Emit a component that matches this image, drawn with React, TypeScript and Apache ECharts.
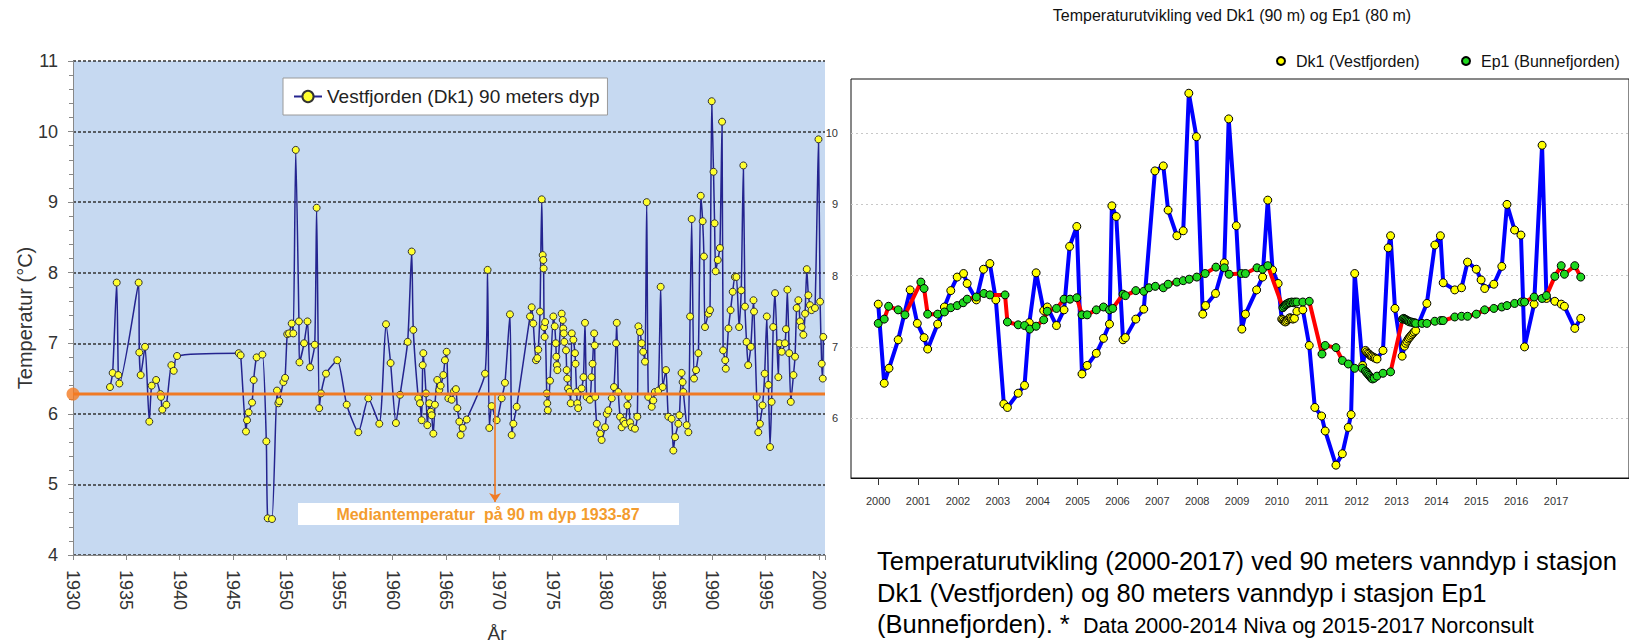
import React, { useEffect, useRef } from 'react';
import * as echarts from 'echarts';

// ---------- Left chart: Vestfjorden (Dk1) 90 m, 1933-2000 ----------
const dk1Historic: [number, number][] = [
  [1933.47, 6.38], [1933.72, 6.58], [1934.1, 7.86], [1934.25, 6.55], [1934.35, 6.43],
  [1936.16, 7.86], [1936.22, 6.87], [1936.35, 6.55], [1936.76, 6.95], [1937.16, 5.89],
  [1937.38, 6.4], [1937.8, 6.48], [1938.2, 6.28], [1938.26, 6.24], [1938.38, 6.06],
  [1938.76, 6.13], [1939.23, 6.69], [1939.45, 6.61], [1939.76, 6.82], [1945.55, 6.86],
  [1945.73, 6.83], [1946.23, 5.75], [1946.33, 5.91], [1946.48, 6.02], [1946.8, 6.16],
  [1946.95, 6.48], [1947.23, 6.8], [1947.77, 6.84], [1948.14, 5.61], [1948.27, 4.52],
  [1948.67, 4.51], [1949.14, 6.33], [1949.27, 6.15], [1949.36, 6.18], [1949.74, 6.45],
  [1949.9, 6.51], [1950.1, 7.13], [1950.27, 7.14], [1950.52, 7.28], [1950.67, 7.14],
  [1950.9, 9.74], [1951.2, 7.31], [1951.25, 6.73], [1951.68, 7.0], [1952.0, 7.31],
  [1952.24, 6.66], [1952.68, 6.98], [1952.86, 8.92], [1953.1, 6.08], [1953.27, 6.29],
  [1953.74, 6.57], [1954.8, 6.76], [1955.68, 6.13], [1956.77, 5.74], [1957.71, 6.22],
  [1958.74, 5.86], [1959.37, 7.27], [1959.8, 6.72], [1960.3, 5.87], [1960.69, 6.27],
  [1961.4, 7.02], [1961.78, 8.3], [1961.93, 7.19], [1962.4, 6.22], [1962.56, 6.15],
  [1962.71, 5.91], [1962.81, 6.69], [1962.87, 6.86], [1963.12, 6.29], [1963.25, 5.84],
  [1963.43, 6.15], [1963.56, 6.03], [1963.65, 5.98], [1963.81, 5.72], [1963.96, 6.13],
  [1964.18, 6.48], [1964.37, 6.34], [1964.5, 6.4], [1964.75, 6.55], [1964.9, 6.76],
  [1965.06, 6.88], [1965.22, 6.22], [1965.53, 6.2], [1965.75, 6.32], [1965.93, 6.35],
  [1966.06, 6.08], [1966.25, 5.89], [1966.37, 5.7], [1966.56, 5.8], [1966.94, 5.92],
  [1968.66, 6.57], [1968.9, 8.04], [1969.06, 5.8], [1969.28, 6.11], [1969.75, 5.91],
  [1970.22, 6.22], [1970.53, 6.44], [1971.0, 7.41], [1971.16, 5.7], [1971.32, 5.86],
  [1971.63, 6.1], [1972.88, 7.38], [1973.04, 7.51], [1973.19, 7.28], [1973.44, 6.76],
  [1973.57, 6.79], [1973.66, 6.91], [1973.82, 7.45], [1973.98, 9.04], [1974.07, 8.25],
  [1974.13, 8.18], [1974.16, 8.06], [1974.2, 7.23], [1974.25, 7.09], [1974.3, 7.3],
  [1974.45, 6.29], [1974.5, 6.15], [1974.55, 6.05], [1974.76, 6.47], [1975.07, 7.38],
  [1975.2, 7.24], [1975.3, 7.0], [1975.35, 6.81], [1975.4, 6.69], [1975.45, 6.62],
  [1975.85, 7.42], [1975.95, 7.33], [1976.0, 7.21], [1976.05, 7.14], [1976.1, 7.02],
  [1976.26, 6.9], [1976.32, 6.62], [1976.38, 6.5], [1976.45, 6.36], [1976.6, 6.31],
  [1976.7, 6.15], [1976.8, 7.14], [1976.95, 7.05], [1977.1, 6.86], [1977.15, 6.71],
  [1977.25, 6.31], [1977.32, 6.15], [1977.4, 6.08], [1977.73, 6.36], [1977.9, 6.52],
  [1978.04, 7.29], [1978.2, 6.24], [1978.5, 6.2], [1978.65, 6.52], [1978.75, 6.71],
  [1978.9, 7.14], [1978.95, 6.97], [1979.0, 6.24], [1979.15, 5.86], [1979.45, 5.72],
  [1979.6, 5.63], [1979.92, 5.81], [1980.08, 6.0], [1980.23, 6.05], [1980.55, 6.22],
  [1980.76, 6.38], [1980.95, 7.0], [1981.02, 7.29], [1981.17, 6.31], [1981.33, 5.96],
  [1981.48, 5.81], [1981.64, 5.9], [1981.8, 5.86], [1982.02, 6.12], [1982.11, 6.24],
  [1982.27, 5.88], [1982.42, 5.81], [1982.73, 5.79], [1982.95, 5.96], [1983.05, 7.24],
  [1983.2, 7.16], [1983.36, 7.0], [1983.5, 6.88], [1983.67, 6.74], [1983.83, 9.0],
  [1983.98, 6.24], [1984.3, 6.1], [1984.45, 6.19], [1984.6, 6.31], [1984.92, 6.33],
  [1985.14, 7.8], [1985.33, 6.38], [1985.64, 6.62], [1985.86, 5.96], [1986.17, 5.93],
  [1986.33, 5.48], [1986.49, 5.67], [1986.8, 5.86], [1986.9, 5.98], [1987.1, 6.58],
  [1987.2, 6.45], [1987.27, 6.31], [1987.58, 5.84], [1987.74, 5.74], [1987.9, 7.38],
  [1988.05, 8.76], [1988.27, 6.5], [1988.46, 6.62], [1988.68, 6.86], [1988.9, 9.09],
  [1989.08, 8.73], [1989.2, 8.23], [1989.3, 7.23], [1989.62, 7.42], [1989.77, 7.47],
  [1989.93, 10.43], [1990.1, 9.43], [1990.2, 8.7], [1990.3, 8.02], [1990.5, 8.18],
  [1990.7, 8.35], [1990.9, 10.14], [1991.0, 6.9], [1991.2, 6.76], [1991.25, 6.64],
  [1991.5, 7.21], [1991.7, 7.47], [1991.9, 7.73], [1992.1, 7.94], [1992.25, 7.94],
  [1992.5, 7.23], [1992.7, 7.75], [1992.9, 9.52], [1993.05, 7.52], [1993.2, 7.02],
  [1993.35, 6.69], [1993.6, 6.95], [1993.85, 7.61], [1993.9, 7.45], [1994.15, 6.24],
  [1994.3, 5.74], [1994.45, 5.86], [1994.7, 6.12], [1994.9, 6.57], [1995.1, 7.38],
  [1995.25, 6.41], [1995.4, 5.53], [1995.55, 6.17], [1995.7, 7.23], [1995.87, 7.71],
  [1996.18, 6.52], [1996.28, 7.0], [1996.5, 6.88], [1996.8, 7.0], [1996.9, 7.2],
  [1997.03, 7.76], [1997.2, 6.86], [1997.35, 6.17], [1997.6, 6.55], [1997.75, 6.81],
  [1997.9, 7.5], [1998.06, 7.61], [1998.22, 7.31], [1998.37, 7.23], [1998.53, 7.12],
  [1998.69, 7.42], [1998.85, 8.05], [1999.0, 7.68], [1999.15, 7.54], [1999.3, 7.47],
  [1999.62, 7.5], [1999.95, 9.89], [2000.1, 7.59], [2000.25, 6.71], [2000.35, 6.5],
  [2000.4, 7.09],
];
const medianTemp = 6.28;
const medianArrowYear = 1969.6;
const medianArrowEnd = 4.75;
const leftYearTicks = [1930, 1935, 1940, 1945, 1950, 1955, 1960, 1965, 1970, 1975, 1980, 1985, 1990, 1995, 2000];

// ---------- Right chart: Dk1 and Ep1, 2000-2017 ----------
const dk1Recent: [number, number][] = [
  [2000.0, 7.6], [2000.15, 6.49], [2000.27, 6.7], [2000.5, 7.1], [2000.8, 7.8],
  [2000.98, 7.33], [2001.15, 7.13], [2001.24, 6.97], [2001.49, 7.32], [2001.66, 7.56],
  [2001.82, 7.79], [2001.98, 7.98], [2002.14, 8.03], [2002.23, 7.89], [2002.46, 7.66],
  [2002.64, 8.09], [2002.8, 8.17], [2002.95, 7.66], [2003.15, 6.2], [2003.24, 6.15],
  [2003.51, 6.35], [2003.67, 6.46], [2003.79, 7.34], [2003.96, 8.04], [2004.15, 7.51],
  [2004.24, 7.56], [2004.47, 7.3], [2004.66, 7.52], [2004.8, 8.41], [2004.98, 8.69],
  [2005.11, 6.62], [2005.24, 6.74], [2005.47, 6.91], [2005.65, 7.12], [2005.8, 7.32],
  [2005.86, 8.98], [2005.97, 8.83], [2006.14, 7.1], [2006.2, 7.13], [2006.46, 7.39],
  [2006.66, 7.53], [2006.94, 9.47], [2007.15, 9.54], [2007.27, 8.92], [2007.49, 8.56],
  [2007.65, 8.63], [2007.79, 10.56], [2007.98, 9.95], [2008.14, 7.46], [2008.21, 7.58],
  [2008.46, 7.75], [2008.68, 8.18], [2008.79, 10.2], [2008.98, 8.7], [2009.12, 7.25],
  [2009.21, 7.46], [2009.49, 7.8], [2009.64, 7.98], [2009.77, 9.06], [2009.89, 8.08],
  [2010.03, 7.89], [2010.12, 7.39], [2010.15, 7.38], [2010.18, 7.36], [2010.21, 7.35],
  [2010.24, 7.36], [2010.27, 7.38], [2010.3, 7.4], [2010.33, 7.41], [2010.36, 7.4],
  [2010.4, 7.39], [2010.44, 7.4], [2010.5, 7.5], [2010.65, 7.52], [2010.81, 7.02],
  [2010.95, 6.15], [2011.12, 6.03], [2011.21, 5.82], [2011.48, 5.34], [2011.64, 5.5],
  [2011.79, 5.87], [2011.86, 6.05], [2011.95, 8.03], [2012.15, 6.74], [2012.22, 6.95],
  [2012.25, 6.93], [2012.28, 6.91], [2012.31, 6.9], [2012.34, 6.88], [2012.37, 6.87],
  [2012.4, 6.86], [2012.44, 6.85], [2012.47, 6.84], [2012.51, 6.83], [2012.66, 6.95],
  [2012.79, 8.39], [2012.85, 8.56], [2012.96, 7.54], [2013.14, 6.87], [2013.2, 7.01],
  [2013.23, 7.05], [2013.26, 7.08], [2013.29, 7.11], [2013.32, 7.13], [2013.35, 7.15],
  [2013.38, 7.17], [2013.41, 7.19], [2013.44, 7.21], [2013.48, 7.23], [2013.76, 7.61],
  [2013.96, 8.43], [2014.1, 8.56], [2014.17, 7.9], [2014.46, 7.8], [2014.63, 7.83],
  [2014.78, 8.19], [2015.0, 8.09], [2015.12, 7.94], [2015.21, 7.82], [2015.44, 7.88],
  [2015.64, 8.13], [2015.77, 9.0], [2015.96, 8.64], [2016.12, 8.57], [2016.21, 7.0],
  [2016.45, 7.6], [2016.65, 9.83], [2016.76, 7.68], [2016.97, 7.64], [2017.13, 7.6],
  [2017.21, 7.57], [2017.47, 7.26], [2017.62, 7.4],
];
const ep1Recent: [number, number][] = [
  [2000.0, 7.33], [2000.15, 7.39], [2000.26, 7.57], [2000.5, 7.52], [2000.67, 7.45],
  [2001.07, 7.91], [2001.15, 7.82], [2001.24, 7.46], [2001.49, 7.46], [2001.66, 7.49],
  [2001.82, 7.55], [2001.98, 7.58], [2002.13, 7.62], [2002.23, 7.67], [2002.46, 7.7],
  [2002.65, 7.75], [2002.8, 7.73], [2003.18, 7.73], [2003.24, 7.35], [2003.51, 7.31],
  [2003.67, 7.3], [2003.8, 7.25], [2003.96, 7.29], [2004.15, 7.38], [2004.24, 7.5],
  [2004.47, 7.54], [2004.66, 7.67], [2004.81, 7.67], [2004.98, 7.69], [2005.11, 7.45],
  [2005.24, 7.45], [2005.47, 7.52], [2005.65, 7.56], [2005.8, 7.52], [2005.88, 7.54],
  [2006.14, 7.74], [2006.2, 7.72], [2006.46, 7.79], [2006.66, 7.78], [2006.79, 7.83],
  [2006.95, 7.85], [2007.15, 7.83], [2007.27, 7.88], [2007.49, 7.91], [2007.65, 7.93],
  [2007.8, 7.95], [2007.99, 7.98], [2008.2, 8.03], [2008.47, 8.12], [2008.68, 8.11],
  [2008.8, 8.02], [2009.11, 8.03], [2009.21, 8.03], [2009.5, 8.11], [2009.64, 8.09],
  [2009.77, 8.14], [2010.15, 7.55], [2010.18, 7.57], [2010.21, 7.59], [2010.24, 7.6],
  [2010.27, 7.61], [2010.3, 7.62], [2010.33, 7.62], [2010.37, 7.63], [2010.41, 7.62],
  [2010.45, 7.63], [2010.5, 7.63], [2010.65, 7.63], [2010.81, 7.64], [2011.13, 6.9],
  [2011.21, 7.02], [2011.48, 6.99], [2011.64, 6.81], [2011.79, 6.76], [2011.95, 6.7],
  [2012.14, 6.7], [2012.22, 6.66], [2012.25, 6.64], [2012.28, 6.62], [2012.31, 6.6],
  [2012.34, 6.58], [2012.37, 6.56], [2012.4, 6.55], [2012.44, 6.56], [2012.51, 6.59],
  [2012.66, 6.63], [2012.85, 6.65], [2013.15, 7.39], [2013.18, 7.4], [2013.21, 7.39],
  [2013.24, 7.38], [2013.27, 7.37], [2013.3, 7.36], [2013.33, 7.35], [2013.37, 7.35],
  [2013.41, 7.34], [2013.45, 7.34], [2013.48, 7.33], [2013.64, 7.33], [2013.76, 7.33],
  [2013.96, 7.36], [2014.11, 7.37], [2014.17, 7.37], [2014.46, 7.42], [2014.63, 7.43],
  [2014.78, 7.43], [2015.0, 7.46], [2015.21, 7.52], [2015.44, 7.54], [2015.64, 7.56],
  [2015.77, 7.58], [2015.96, 7.61], [2016.13, 7.63], [2016.21, 7.63], [2016.45, 7.7],
  [2016.65, 7.68], [2016.76, 7.72], [2016.97, 7.99], [2017.13, 8.14], [2017.21, 8.02],
  [2017.47, 8.14], [2017.62, 7.98],
];
const rightYearTicks = [2000, 2001, 2002, 2003, 2004, 2005, 2006, 2007, 2008, 2009, 2010, 2011, 2012, 2013, 2014, 2015, 2016, 2017];
const rightTempTicks = [6, 7, 8, 9, 10];

const FONT = "'Liberation Sans', Arial, sans-serif";
const LEFT_NAME = 'Vestfjorden (Dk1) 90 meters dyp';
const DK1_NAME = 'Dk1 (Vestfjorden)';
const EP1_NAME = 'Ep1 (Bunnefjorden)';

export default function App() {
  const ref = useRef<HTMLDivElement>(null);
  useEffect(() => {
    const chart = echarts.init(ref.current!, null, { renderer: 'svg' });
    const rightLegendBase = {
      top: 53, itemWidth: 20, itemHeight: 8, selectedMode: false, padding: 0,
      textStyle: { fontSize: 16, color: '#111', fontFamily: FONT },
    };
    chart.setOption({
      animation: false,
      textStyle: { fontFamily: FONT },
      grid: [
        { left: 73, top: 61, width: 752, height: 494, show: true, backgroundColor: '#c6d9f1', borderWidth: 0 },
        { left: 851, top: 79, width: 800, height: 399, show: true, backgroundColor: '#ffffff', borderColor: '#111', borderWidth: 1 },
      ],
      xAxis: [
        {
          gridIndex: 0, type: 'value', min: 1930, max: 2000.56, interval: 5,
          axisLine: { show: true, lineStyle: { color: '#888', width: 1 } },
          axisTick: { show: true, length: 5, lineStyle: { color: '#888' } },
          axisLabel: {
            rotate: -90, fontSize: 18, color: '#333', margin: 15, fontFamily: FONT,
            formatter: (v: number) => (leftYearTicks.includes(v) ? String(v) : ''),
          },
          splitLine: { show: false },
        },
        {
          gridIndex: 1, type: 'value', min: 1999.317, max: 2018.83,
          axisLine: { show: true, lineStyle: { color: '#111' } },
          axisTick: { show: true, length: 7, customValues: rightYearTicks, lineStyle: { color: '#333' } },
          axisLabel: { customValues: rightYearTicks, fontSize: 11, color: '#333', margin: 17, fontFamily: FONT, formatter: (v: number) => String(v) },
          splitLine: { show: false },
        },
      ],
      yAxis: [
        {
          gridIndex: 0, type: 'value', min: 4, max: 11, interval: 1,
          axisLine: { show: true, lineStyle: { color: '#888' } },
          axisTick: { show: true, length: 5, lineStyle: { color: '#888' } },
          minorTick: { show: true, splitNumber: 5, length: 4, lineStyle: { color: '#888' } },
          axisLabel: { fontSize: 18, color: '#333', margin: 15, fontFamily: FONT },
          splitLine: { show: true, lineStyle: { color: '#333', type: [3, 2], width: 1.6 } },
        },
        {
          gridIndex: 1, type: 'value', min: 5.16, max: 10.76,
          axisLine: { show: false },
          axisTick: { show: false },
          axisLabel: { customValues: rightTempTicks, fontSize: 11, color: '#333', margin: 13, fontFamily: FONT },
          splitLine: { show: true, showMinLine: false, showMaxLine: false, lineStyle: { color: '#c8c8c8', type: [2, 3], width: 1 } },
        },
      ],
      legend: [
        {
          data: [{ name: LEFT_NAME }], left: 283, top: 78,
          padding: [9, 8, 9, 10], backgroundColor: '#ffffff', borderColor: '#9a9a9a', borderWidth: 1,
          itemWidth: 28, itemHeight: 14, selectedMode: false,
          textStyle: { fontSize: 19, color: '#222', fontFamily: FONT },
        },
        { ...rightLegendBase, data: [{ name: DK1_NAME, icon: 'circle' }], left: 1276 },
        { ...rightLegendBase, data: [{ name: EP1_NAME, icon: 'circle' }], left: 1461 },
      ],
      series: [
        {
          name: LEFT_NAME, type: 'line', xAxisIndex: 0, yAxisIndex: 0, data: dk1Historic,
          smooth: 0.2, symbol: 'circle', symbolSize: 7, z: 3,
          lineStyle: { color: '#24248f', width: 1.5 },
          itemStyle: { color: '#ffff2e', borderColor: '#333', borderWidth: 1 },
        },
        {
          name: 'median', type: 'line', xAxisIndex: 0, yAxisIndex: 0,
          data: [[1930, medianTemp], [2000.56, medianTemp]], symbol: 'none', z: 4,
          lineStyle: { color: '#f07a24', width: 3 },
          markLine: {
            silent: true, symbol: ['none', 'arrow'], symbolSize: 9, label: { show: false },
            lineStyle: { color: '#f07a24', width: 1.6, type: 'solid' },
            data: [[{ coord: [medianArrowYear, medianTemp] }, { coord: [medianArrowYear, medianArrowEnd] }]],
          },
        },
        {
          name: 'medianStart', type: 'scatter', xAxisIndex: 0, yAxisIndex: 0, clip: false,
          data: [[1930, medianTemp]], symbolSize: 13, z: 5, itemStyle: { color: '#f47a22' },
        },
        {
          name: DK1_NAME, type: 'line', xAxisIndex: 1, yAxisIndex: 1, data: dk1Recent,
          symbol: 'circle', symbolSize: 8, z: 3,
          lineStyle: { color: '#0000ff', width: 4 },
          itemStyle: { color: '#ffff00', borderColor: '#000', borderWidth: 1 },
        },
        {
          name: EP1_NAME, type: 'line', xAxisIndex: 1, yAxisIndex: 1, data: ep1Recent,
          symbol: 'circle', symbolSize: 8, z: 4,
          lineStyle: { color: '#ff0000', width: 4 },
          itemStyle: { color: '#1fd81f', borderColor: '#000', borderWidth: 1 },
        },
      ],
      graphic: [
        { type: 'rect', z: 100, shape: { x: 298, y: 503, width: 381, height: 22 }, style: { fill: '#ffffff' } },
        {
          type: 'text', z: 101, x: 488, y: 514,
          style: { text: 'Mediantemperatur  på 90 m dyp 1933-87', fill: '#f39c2e', fontSize: 16, fontWeight: 'bold', fontFamily: FONT, textAlign: 'center', textVerticalAlign: 'middle' },
        },
        {
          type: 'text', z: 100, x: 25, y: 318, rotation: Math.PI / 2,
          style: { text: 'Temperatur (°C)', fill: '#333', fontSize: 20, fontFamily: FONT, textAlign: 'center', textVerticalAlign: 'middle' },
        },
        {
          type: 'text', z: 100, x: 497, y: 633,
          style: { text: 'År', fill: '#333', fontSize: 19, fontFamily: FONT, textAlign: 'center', textVerticalAlign: 'middle' },
        },
        {
          type: 'text', z: 100, x: 1232, y: 15,
          style: { text: 'Temperaturutvikling ved Dk1 (90 m) og Ep1 (80 m)', fill: '#111', fontSize: 16, fontFamily: FONT, textAlign: 'center', textVerticalAlign: 'middle' },
        },
        {
          type: 'text', z: 100, x: 877, y: 561,
          style: { text: 'Temperaturutvikling (2000-2017) ved 90 meters vanndyp i stasjon', fill: '#000', fontSize: 25.5, fontFamily: FONT, textAlign: 'left', textVerticalAlign: 'middle' },
        },
        {
          type: 'text', z: 100, x: 877, y: 593,
          style: { text: 'Dk1 (Vestfjorden) og 80 meters vanndyp i stasjon Ep1', fill: '#000', fontSize: 25.5, fontFamily: FONT, textAlign: 'left', textVerticalAlign: 'middle' },
        },
        {
          type: 'text', z: 100, x: 877, y: 624,
          style: { text: '(Bunnefjorden). *', fill: '#000', fontSize: 25.5, fontFamily: FONT, textAlign: 'left', textVerticalAlign: 'middle' },
        },
        {
          type: 'text', z: 100, x: 1083, y: 626,
          style: { text: 'Data 2000-2014 Niva og 2015-2017 Norconsult', fill: '#000', fontSize: 21.5, fontFamily: FONT, textAlign: 'left', textVerticalAlign: 'middle' },
        },
      ],
    });
    return () => chart.dispose();
  }, []);
  return (
    <div
      ref={ref}
      style={{ position: 'absolute', left: 0, top: 0, width: 1629, height: 642, background: '#ffffff', overflow: 'hidden' }}
    />
  );
}
